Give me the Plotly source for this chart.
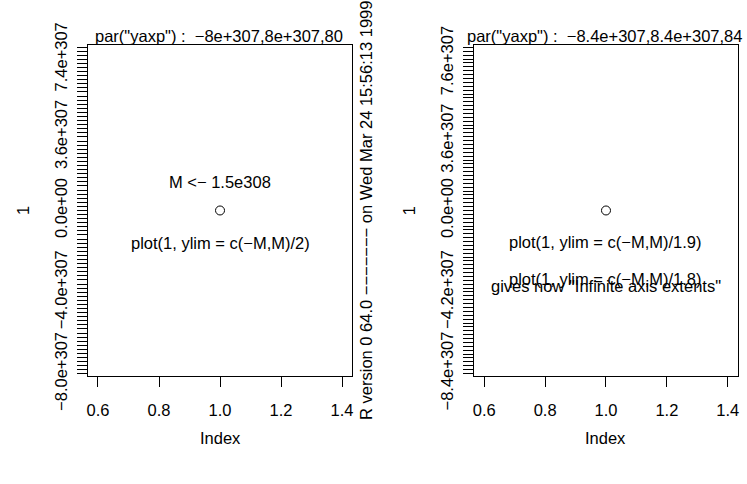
import plotly.graph_objects as go

# ---- data ----
M = 1.5e308
point_x = [1]
point_y = [1]
ylim_divisors = [2, 1.9]
x_tick_vals = [0.6, 0.8, 1.0, 1.2, 1.4]
x_tick_text = ["0.6", "0.8", "1.0", "1.2", "1.4"]
x_lim = [0.6, 1.4]

yaxp_left = [-8e307, 8e307, 80]
yaxp_right = [-8.4e307, 8.4e307, 84]
ylab_vals_left = [-8.0e307, -4.0e307, 0.0, 3.6e307, 7.4e307]
ylab_text_left = ["\u22128.0e+307", "\u22124.0e+307", "0.0e+00", "3.6e+307", "7.4e+307"]
ylab_vals_right = [-8.4e307, -4.2e307, 0.0, 3.6e307, 7.6e307]
ylab_text_right = ["\u22128.4e+307", "\u22124.2e+307", "0.0e+00", "3.6e+307", "7.6e+307"]

title_left = 'par("yaxp") : \u00a0\u22128e+307,8e+307,80'
title_right = 'par("yaxp") : \u00a0\u22128.4e+307,8.4e+307,84'
side_text = "R version 0 64.0 \u2212\u2212\u2212\u2212\u2212\u2212\u2212 on Wed Mar 24 15:56:13 1999"

# the browser cannot map values near 1e308 reliably, so y is drawn in units of 1e307
S = 1e307

FONT = "Liberation Sans, Arial, sans-serif"
FS = 16.5
W, H = 747, 484

def ext(lo, hi):
    d = (hi - lo) * 0.04
    return [(lo - d) / S, (hi + d) / S]

def yticks(yaxp, labvals, labtext):
    lo, hi, n = yaxp
    step = (hi - lo) / n
    vals = [(lo + i * step) / S for i in range(n + 1)]
    text = [""] * len(vals)
    for v, t in zip(labvals, labtext):
        k = int(round((v - lo) / step))
        vals[k] = v / S
        text[k] = t
    return vals, text

# pixel geometry
L1, R1 = 86.7, 351.7
L2, R2 = 475.0, 739.5
TOP, BOT = 25.0, 401.0
ydom = [1 - BOT / H, 1 - TOP / H]

fig = go.Figure()
for i in range(2):
    fig.add_trace(go.Scatter(
        x=point_x, y=[v / S for v in point_y], mode="markers",
        marker=dict(symbol="circle-open", size=9, color="black",
                    line=dict(width=1, color="black")),
        xaxis="x" if i == 0 else "x2", yaxis="y" if i == 0 else "y2",
        showlegend=False, hoverinfo="skip"))

axis_common = dict(showgrid=False, zeroline=False, showline=True, mirror=True,
                   linecolor="black", linewidth=1, ticks="outside", ticklen=10,
                   tickcolor="black", tickwidth=1,
                   tickfont=dict(family=FONT, size=FS, color="black"))

yv_l, yt_l = yticks(yaxp_left, ylab_vals_left, ylab_text_left)
yv_r, yt_r = yticks(yaxp_right, ylab_vals_right, ylab_text_right)

xr = [x_lim[0] - 0.04 * (x_lim[1] - x_lim[0]), x_lim[1] + 0.04 * (x_lim[1] - x_lim[0])]

fig.update_layout(
    width=W, height=H, margin=dict(l=0, r=0, t=0, b=0),
    paper_bgcolor="white", plot_bgcolor="white",
    font=dict(family=FONT, size=FS, color="black"),
    xaxis=dict(domain=[L1 / W, R1 / W], range=xr,
               tickmode="array", tickvals=x_tick_vals, ticktext=x_tick_text,
               anchor="y", ticklabelstandoff=9, **axis_common),
    xaxis2=dict(domain=[L2 / W, R2 / W], range=xr,
                tickmode="array", tickvals=x_tick_vals, ticktext=x_tick_text,
                anchor="y2", ticklabelstandoff=9, **axis_common),
    yaxis=dict(domain=ydom, range=ext(-M / ylim_divisors[0], M / ylim_divisors[0]),
               tickmode="array", tickvals=yv_l, ticktext=yt_l, tickangle=-90,
               anchor="x", ticklabelstandoff=4, **axis_common),
    yaxis2=dict(domain=ydom, range=ext(-M / ylim_divisors[1], M / ylim_divisors[1]),
                tickmode="array", tickvals=yv_r, ticktext=yt_r, tickangle=-90,
                anchor="x2", ticklabelstandoff=4, **axis_common),
)

ann = []
def a(**kw):
    d = dict(showarrow=False, font=dict(family=FONT, size=FS, color="black"))
    d.update(kw)
    ann.append(d)

# titles above boxes
a(text=title_left, xref="paper", yref="paper", x=218.5 / W, y=ydom[1],
  xanchor="center", yanchor="bottom", yshift=-2)
a(text=title_right, xref="paper", yref="paper", x=605.5 / W, y=ydom[1],
  xanchor="center", yanchor="bottom", yshift=-2)
# axis titles
for (l, r) in [(L1, R1), (L2, R2)]:
    a(text="Index", xref="paper", yref="paper", x=(l + r) / 2 / W, y=1 - 472 / H,
      xanchor="center", yanchor="middle")
    a(text="1", xref="paper", yref="paper", x=(l - 65) / W, y=1 - 213 / H,
      xanchor="center", yanchor="middle", textangle=-90)
# side text
a(text=side_text, xref="paper", yref="paper", x=366 / W, y=1 - 213.5 / H,
  xanchor="center", yanchor="middle", textangle=-90)
# in-plot texts
a(text="M <\u2212 1.5e308", xref="x", yref="y", x=1, y=M / 10 / S,
  xanchor="center", yanchor="middle", yshift=-2)
a(text="plot(1, ylim = c(\u2212M,M)/2)", xref="x", yref="y", x=1, y=-M / 10 / S,
  xanchor="center", yanchor="middle", yshift=-2)
a(text="plot(1, ylim = c(\u2212M,M)/1.9)", xref="x2", yref="y2", x=1, y=-M / 10 / S,
  xanchor="center", yanchor="middle", yshift=-2)
a(text="plot(1, ylim = c(\u2212M,M)/1.8)", xref="x2", yref="y2", x=1, y=-3.45e307 / S,
  xanchor="center", yanchor="middle", yshift=-2)
a(text='gives now "Infinite axis extents"', xref="x2", yref="y2", x=1, y=-3.8e307 / S,
  xanchor="center", yanchor="middle", yshift=-2)

fig.update_layout(annotations=ann)
fig.write_html("out.html", config={"displayModeBar": False},
               post_script="document.body.style.margin='0px';")
